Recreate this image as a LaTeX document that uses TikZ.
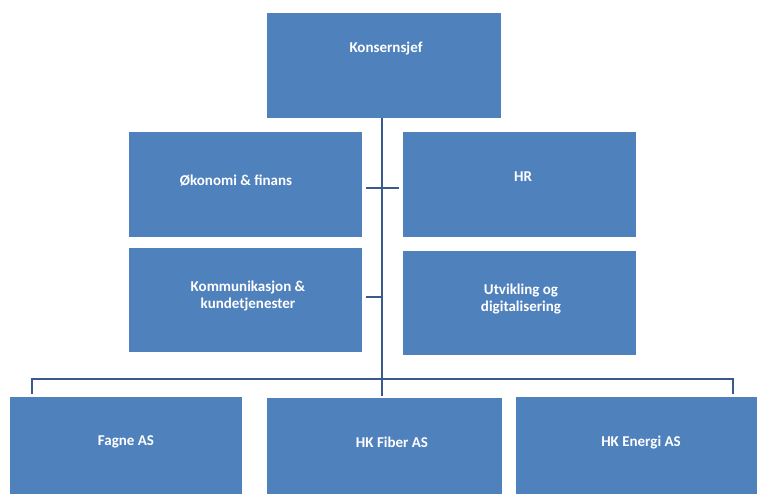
\documentclass[tikz,border=0pt]{standalone}
\usepackage{fontspec}
\setmainfont{Carlito}
\definecolor{boxblue}{HTML}{4F81BD}
\definecolor{lineblue}{HTML}{3A5A8C}
\begin{document}
\begin{tikzpicture}[x=1pt,y=-1pt,
  orgbox/.style={fill=boxblue,draw=none},
  lbl/.style={text=white,font=\bfseries\fontsize{15}{16.5}\selectfont,align=center,inner sep=0pt},
  conn/.style={draw=lineblue,line width=2pt}]
\useasboundingbox (0,0) rectangle (757,493);
% boxes
\fill[orgbox] (267,13) rectangle (501,118);
\fill[orgbox] (129,132) rectangle (362,237);
\fill[orgbox] (403,132) rectangle (636,237);
\fill[orgbox] (129,248) rectangle (362,352);
\fill[orgbox] (403,251) rectangle (636,355);
\fill[orgbox] (10,397) rectangle (242,500);
\fill[orgbox] (267,398) rectangle (502,500);
\fill[orgbox] (516,397) rectangle (760,500);
% labels
\node[lbl] (ks) at (386,49) {Konsernsjef};
\node[lbl] (ok) at (236,181) {Økonomi \& finans};
\node[lbl] (hr) at (523,177) {HR};
\node[lbl] (km) at (248,296) {Kommunikasjon \&\\kundetjenester};
\node[lbl] (ut) at (521,299) {Utvikling og\\digitalisering};
\node[lbl] (fa) at (126,442) {Fagne AS};
\node[lbl] (fi) at (392,442) {HK Fiber AS};
\node[lbl] (en) at (641,442) {HK Energi AS};
% connectors
\coordinate (top) at (382,118);
\coordinate (bus) at (382,379);
\coordinate (l1) at (366,188);
\coordinate (r1) at (399,188);
\coordinate (l2) at (366,297);
\coordinate (m2) at (382,297);
\coordinate (bl) at (32,379);
\coordinate (br) at (733,379);
\coordinate (bld) at (32,394);
\coordinate (bmd) at (382,396);
\coordinate (brd) at (733,394);
\draw[conn] (top) -- (bus);
\draw[conn] (l1) -- (r1);
\draw[conn] (l2) -- (m2);
\draw[conn] (bld) -- (bl) -- (br) -- (brd);
\draw[conn] (bus) -- (bmd);
\end{tikzpicture}
\end{document}
